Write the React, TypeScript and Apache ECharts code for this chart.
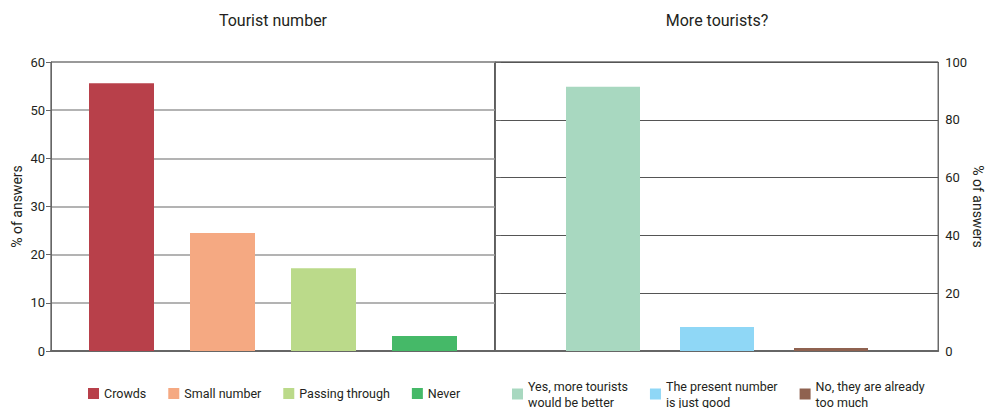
import React, { useEffect, useRef } from "react";
import * as echarts from "echarts";

const leftTitle = "Tourist number";
const rightTitle = "More tourists?";
const axisName = "% of answers";

const leftCategories = ["Crowds", "Small number", "Passing through", "Never"];
const leftValues = [55.6, 24.5, 17.2, 3.1];
const leftColors = ["#B8404A", "#F5A982", "#BBDA8A", "#45B968"];
const leftTicks = { min: 0, max: 60, interval: 10 };

const rightCategories = [
  "Yes, more tourists\nwould be better",
  "The present number\nis just good",
  "No, they are already\ntoo much",
];
const rightValues = [91.4, 8.3, 1.0];
const rightColors = ["#A8D8C0", "#8FD7F6", "#8F6250"];
const rightTicks = { min: 0, max: 100, interval: 20 };

const FONT = '"Liberation Sans Narrow", Roboto, sans-serif';
const TEXT = "#231F20";

export default function App() {
  const ref = useRef<HTMLDivElement>(null);
  useEffect(() => {
    if (!ref.current) return;
    const chart = echarts.init(ref.current, undefined, { renderer: "svg" });
    const top = 62;
    const bottom = 408 - 351;
    const hiddenAxis = { show: false };
    const titleStyle = { fontFamily: FONT, fontSize: 16, fontWeight: "normal", color: TEXT };
    const option: any = {
      animation: false,
      textStyle: { fontFamily: FONT, color: TEXT },
      title: [
        { text: leftTitle, left: 273, top: 12, padding: 0, textAlign: "center", textStyle: titleStyle },
        { text: rightTitle, left: 717, top: 12, padding: 0, textAlign: "center", textStyle: titleStyle },
      ],
      grid: [
        { left: 51, width: 444, top, bottom, show: true, borderColor: "#333", borderWidth: 1, backgroundColor: "transparent" },
        { left: 71, width: 404, top, bottom },
        { left: 495, width: 444, top, bottom, show: true, borderColor: "#222", borderWidth: 1, backgroundColor: "transparent" },
        { left: 546, width: 342, top, bottom },
      ],
      xAxis: [
        { gridIndex: 0, type: "value", min: 0, max: 1, axisLine: { show: true, lineStyle: { color: "#666", width: 2 } }, axisTick: { show: false }, axisLabel: { show: false }, splitLine: { show: false } },
        { gridIndex: 1, type: "category", data: leftCategories, boundaryGap: true, ...hiddenAxis },
        { gridIndex: 2, type: "value", min: 0, max: 1, axisLine: { show: true, lineStyle: { color: "#666", width: 2 } }, axisTick: { show: false }, axisLabel: { show: false }, splitLine: { show: false } },
        { gridIndex: 3, type: "category", data: rightCategories, boundaryGap: true, ...hiddenAxis },
      ],
      yAxis: [
        {
          gridIndex: 0, type: "value", position: "left", ...leftTicks,
          name: axisName, nameLocation: "middle", nameGap: 27, nameRotate: 90,
          nameTextStyle: { fontFamily: FONT, fontSize: 14, color: TEXT },
          axisLine: { show: true, lineStyle: { color: "#666", width: 1 } },
          axisTick: { show: true, length: 5, lineStyle: { color: "#666" } },
          axisLabel: { fontFamily: FONT, fontSize: 13, color: TEXT, margin: 6 },
          splitLine: { show: true, lineStyle: { color: "#9A9A9A", width: 1.5 } },
        },
        { gridIndex: 1, type: "value", ...leftTicks, ...hiddenAxis },
        {
          gridIndex: 2, type: "value", position: "right", ...rightTicks,
          name: axisName, nameLocation: "middle", nameGap: 29, nameRotate: -90,
          nameTextStyle: { fontFamily: FONT, fontSize: 14, color: TEXT },
          axisLine: { show: true, lineStyle: { color: "#666", width: 1 } },
          axisTick: { show: true, length: 6, lineStyle: { color: "#666" } },
          axisLabel: { fontFamily: FONT, fontSize: 13, color: TEXT, margin: 7 },
          splitLine: { show: true, lineStyle: { color: "#555", width: 1 } },
        },
        { gridIndex: 3, type: "value", ...rightTicks, ...hiddenAxis },
      ],
      legend: [
        {
          data: leftCategories, left: 88, top: 387, padding: 0, icon: "rect", itemWidth: 11, itemHeight: 11, itemGap: 22,
          textStyle: { fontFamily: FONT, fontSize: 12.5, color: TEXT },
        },
        {
          data: rightCategories, left: 512, top: 378, padding: 0, icon: "rect", itemWidth: 11, itemHeight: 11, itemGap: 22,
          textStyle: { fontFamily: FONT, fontSize: 12.5, color: TEXT, lineHeight: 16 },
        },
      ],
      series: [
        ...leftCategories.map((name, i) => ({
          type: "bar", name, xAxisIndex: 1, yAxisIndex: 1,
          data: leftValues.map((v, j) => (j === i ? v : "-")),
          barWidth: 65, barGap: "-100%", itemStyle: { color: leftColors[i] },
        })),
        ...rightCategories.map((name, i) => ({
          type: "bar", name, xAxisIndex: 3, yAxisIndex: 3,
          data: rightValues.map((v, j) => (j === i ? v : "-")),
          barWidth: 74, barGap: "-100%", itemStyle: { color: rightColors[i] },
        })),
      ],
    };
    chart.setOption(option);
    return () => chart.dispose();
  }, []);
  return (
    <div
      ref={ref}
      style={{ position: "fixed", left: 0, top: 0, width: 986, height: 408, background: "#fff" }}
    />
  );
}
